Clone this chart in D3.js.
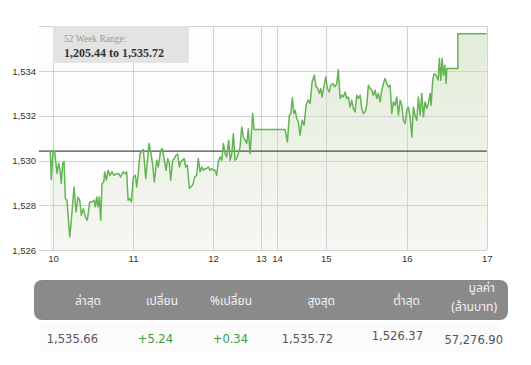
<!DOCTYPE html>
<html lang="th">
<head>
<meta charset="UTF-8">
<title>SET index</title>
<style>
    body { margin: 0; background: #ffffff; }
    svg { display: block; }
</style>
</head>
<body>
<div id="chart"></div>
<script src="https://cdn.jsdelivr.net/npm/d3@7/dist/d3.min.js"></script>
<script>
    // x is measured in trading days from the "10" tick
    const dayLabels = ["10", "11", "12", "13", "14", "15", "16", "17"];
    const dayPos = [0, 1, 2, 2.6, 2.8, 3.41, 4.42, 5.42];
    const yTicks = [1526, 1528, 1530, 1532, 1534];
    const prevClose = 1530.42;

    const seriesT = [
        -0.034, -0.021, 0, 0.021, 0.05, 0.071, 0.088, 0.104, 0.121, 0.138, 0.154, 0.175, 0.209, 0.229,
        0.263, 0.288, 0.313, 0.334, 0.354, 0.379, 0.404, 0.429, 0.459, 0.488, 0.513, 0.529, 0.546,
        0.563, 0.579, 0.596, 0.613, 0.634, 0.646, 0.666, 0.688, 0.709, 0.738, 0.763, 0.791, 0.821,
        0.846, 0.875, 0.904, 0.921, 0.938, 0.959, 0.979, 1.004, 1.029, 1.046, 1.063,
        1.088, 1.129, 1.159, 1.2, 1.225, 1.246, 1.266, 1.296, 1.316, 1.346, 1.366, 1.388, 1.413,
        1.434, 1.454, 1.471, 1.496, 1.516, 1.538, 1.559, 1.579, 1.596, 1.616, 1.638, 1.659, 1.679,
        1.704, 1.721, 1.746, 1.771, 1.796, 1.816, 1.838, 1.859, 1.879, 1.9, 1.921, 1.941, 1.963,
        1.984, 2.004, 2.025, 2.046, 2.066, 2.088, 2.109, 2.129, 2.15, 2.171, 2.196, 2.213, 2.234,
        2.254, 2.275, 2.296, 2.316, 2.338, 2.359, 2.379, 2.4, 2.421, 2.441, 2.463, 2.496, 2.513, 2.9,
        2.929, 2.954, 2.971, 2.991, 3.009, 3.025, 3.046, 3.066, 3.088, 3.113, 3.138, 3.163, 3.188,
        3.213, 3.238, 3.266, 3.288, 3.309, 3.329, 3.346, 3.363, 3.388, 3.409, 3.429, 3.45, 3.471,
        3.496, 3.521, 3.546, 3.566, 3.588, 3.609, 3.629, 3.65, 3.671, 3.691, 3.713, 3.734, 3.754,
        3.775, 3.796, 3.816,
        3.838, 3.859, 3.879, 3.9, 3.921, 3.941, 3.963, 3.984, 4.004, 4.025, 4.046, 4.066, 4.088,
        4.109, 4.129, 4.15, 4.171, 4.191, 4.213, 4.234, 4.254, 4.275, 4.296, 4.316, 4.338, 4.359,
        4.379, 4.4, 4.421, 4.441, 4.463, 4.484, 4.504, 4.525, 4.546, 4.566, 4.588, 4.609, 4.629,
        4.65, 4.671, 4.691, 4.713, 4.725, 4.746, 4.763, 4.788, 4.813, 4.829, 4.846, 4.863, 4.879,
        4.896, 4.913, 4.921, 5.059, 5.059, 5.421
    ];
    const seriesV = [
        1530.45, 1529.15, 1530.45, 1530.38, 1529.43, 1529.88, 1529.56, 1528.98, 1529.88, 1529.94, 1528.30, 1528.22, 1526.58, 1527.33,
        1528.82, 1527.70, 1528.37, 1528.22, 1527.55, 1527.85, 1527.48, 1527.33, 1528.15, 1528.15, 1528.22, 1527.93, 1528.37,
        1527.93, 1528.37, 1527.33, 1528.97, 1529.04, 1529.49, 1529.12, 1529.56, 1529.34, 1529.49, 1529.34, 1529.41, 1529.41,
        1529.26, 1529.49, 1529.41, 1529.49, 1528.22, 1528.30, 1528.15, 1529.26, 1529.34, 1528.82, 1529.34,
        1530.31, 1530.49, 1529.19, 1530.76, 1530.31, 1529.79, 1529.04, 1530.01, 1529.71, 1530.46, 1530.53, 1530.09, 1529.56,
        1530.09, 1529.86, 1529.12, 1530.01, 1530.09, 1530.24, 1530.28, 1529.71, 1529.94, 1530.01, 1530.09, 1529.71, 1529.79,
        1528.75, 1528.82, 1528.90, 1529.26, 1529.34, 1530.09, 1529.49, 1529.71, 1529.56, 1529.64, 1529.64, 1529.71, 1529.56,
        1529.64, 1529.56, 1529.56, 1529.34, 1529.94, 1530.16, 1530.01, 1530.76, 1530.31, 1530.16, 1530.91, 1530.01, 1530.31,
        1531.20, 1530.01, 1530.09, 1530.31, 1530.61, 1531.50, 1531.05, 1530.91, 1530.76, 1531.42, 1530.30, 1532.10, 1531.38, 1531.38,
        1530.83, 1532.02, 1532.10, 1532.81, 1532.10, 1532.25, 1531.88, 1531.72, 1531.13, 1531.80, 1531.58, 1532.47, 1532.70,
        1532.55, 1533.51, 1533.81, 1533.29, 1533.22, 1533.00, 1533.22, 1532.84, 1533.36, 1533.73, 1533.22, 1533.06, 1533.36,
        1533.44, 1533.29, 1533.44, 1534.06, 1532.77, 1532.92, 1532.84, 1533.06, 1532.77, 1532.84, 1532.39, 1532.69, 1532.32,
        1532.17, 1532.92, 1532.77,
        1532.92, 1532.32, 1532.10, 1532.17, 1532.47, 1533.36, 1533.22, 1533.14, 1532.92, 1533.14, 1532.77, 1533.00, 1532.62,
        1533.14, 1533.44, 1533.66, 1533.44, 1533.29, 1533.36, 1532.10, 1532.62, 1532.47, 1532.84, 1532.02, 1532.69, 1532.47,
        1531.80, 1531.65, 1532.25, 1532.39, 1531.95, 1531.05, 1532.39, 1532.02, 1531.80, 1532.84, 1532.02, 1533.00, 1531.95,
        1532.62, 1532.32, 1532.55, 1533.00, 1532.47, 1533.59, 1533.89, 1533.81, 1533.59, 1534.56, 1533.59, 1534.56, 1533.81,
        1534.26, 1533.44, 1534.11, 1534.11, 1535.66, 1535.66
    ];

    const rangeTitle = "52 Week Range:";
    const rangeText = "1,205.44 to 1,535.72";

    const headers = [["ล่าสุด"], ["เปลี่ยน"], ["%เปลี่ยน"], ["สูงสุด"], ["ต่ำสุด"], ["มูลค่า", "(ล้านบาท)"]];
    const values = ["1,535.66", "+5.24", "+0.34", "1,535.72", "1,526.37", "57,276.90"];
    const valueColors = ["#555", "#3d9a3d", "#3d9a3d", "#555", "#555", "#4d5660"];

    const W = 531, H = 365;
    const svg = d3.select("#chart").append("svg").attr("width", W).attr("height", H);

    const x = d3.scaleLinear().domain([-0.175, 5.42]).range([39, 486.7]);
    const y = d3.scaleLinear().domain([1526, 1536]).range([250, 26.25]);

    const defs = svg.append("defs");
    const grad = defs.append("linearGradient").attr("id", "fillGrad")
        .attr("x1", 0).attr("y1", 0).attr("x2", 0).attr("y2", 1);
    grad.append("stop").attr("offset", "0%").attr("stop-color", "#e3ecd9");
    grad.append("stop").attr("offset", "100%").attr("stop-color", "#f6f7f3");

    svg.append("rect").attr("x", x.range()[0]).attr("y", y(1536))
        .attr("width", x.range()[1] - x.range()[0]).attr("height", y(1526) - y(1536))
        .attr("fill", "#fdfdfd");

    const data = seriesT.map((t, i) => ({t: t, v: seriesV[i]}));

    // area under the line
    const area = d3.area()
        .x(d => x(d.t))
        .y0(y(1526))
        .y1(d => y(d.v));
    svg.append("path").datum(data).attr("d", area).attr("fill", "url(#fillGrad)");

    // grid
    const grid = svg.append("g").attr("stroke", "#d2d2d2").attr("stroke-width", 1);
    grid.selectAll("line.h").data(yTicks.concat([1536])).enter().append("line")
        .attr("x1", x.range()[0]).attr("x2", x.range()[1])
        .attr("y1", d => Math.round(y(d)) + 0.5).attr("y2", d => Math.round(y(d)) + 0.5);
    grid.selectAll("line.v").data(dayPos).enter().append("line")
        .attr("x1", d => Math.round(x(d)) + 0.5).attr("x2", d => Math.round(x(d)) + 0.5)
        .attr("y1", y(1536)).attr("y2", y(1526));

    // previous close
    svg.append("line")
        .attr("x1", x.range()[0]).attr("x2", x.range()[1])
        .attr("y1", y(prevClose)).attr("y2", y(prevClose))
        .attr("stroke", "#4a4a4a").attr("stroke-width", 1.2);

    const line = d3.line().x(d => x(d.t)).y(d => y(d.v));
    svg.append("path").datum(data).attr("d", line)
        .attr("fill", "none").attr("stroke", "#62b552").attr("stroke-width", 1.5)
        .attr("stroke-linejoin", "round");

    // axes labels
    const yAxis = d3.axisLeft(y).tickValues(yTicks).tickFormat(d3.format(",")).tickSize(0).tickPadding(3);
    svg.append("g").attr("transform", `translate(${x.range()[0]},0)`).call(yAxis)
        .call(g => g.select(".domain").remove())
        .selectAll("text").attr("font-family", "Liberation Sans, Arial, sans-serif")
        .attr("font-size", "9.5px").attr("fill", "#333");

    const xAxis = d3.axisBottom(x).tickValues(dayPos).tickFormat((d, i) => dayLabels[i]).tickSize(0).tickPadding(5);
    svg.append("g").attr("transform", `translate(0,${y(1526)})`).call(xAxis)
        .call(g => g.select(".domain").remove())
        .selectAll("text").attr("font-family", "Liberation Sans, Arial, sans-serif")
        .attr("font-size", "9.5px").attr("fill", "#333");

    // 52 week range box
    svg.append("rect").attr("x", 53).attr("y", 26).attr("width", 136).attr("height", 37).attr("fill", "#e3e3e3");
    svg.append("text").attr("x", 64).attr("y", 42).text(rangeTitle)
        .attr("font-family", "Liberation Serif, serif").attr("font-size", "9.5px").attr("fill", "#9a9a9a");
    svg.append("text").attr("x", 64).attr("y", 57).text(rangeText)
        .attr("font-family", "Liberation Serif, serif").attr("font-weight", "bold")
        .attr("font-size", "12px").attr("fill", "#333");

    // table
    const colRight = [101, 178, 252, 335, 420, 495];
    svg.append("rect").attr("x", 34).attr("y", 280).attr("width", 474).attr("height", 40)
        .attr("rx", 8).attr("fill", "#8a8a8a");

    const hd = svg.append("g").attr("font-family", "Noto Sans, Noto Sans Thai, sans-serif")
        .attr("font-size", "12px").attr("fill", "#f2f2f2").attr("text-anchor", "end");
    headers.forEach((h, i) => {
        const t = hd.append("text").attr("x", colRight[i]);
        if (h.length === 1) {
            t.attr("y", 305).text(h[0]);
        } else {
            t.append("tspan").attr("x", colRight[i]).attr("y", 292).text(h[0]);
            t.append("tspan").attr("x", colRight[i] + 2).attr("y", 311).text(h[1]);
        }
    });

    const vBase = [342.5, 342.5, 342.5, 342.5, 340, 344];
    const valRight = [98, 173, 248, 333, 423, 503];
    svg.append("rect").attr("x", 40).attr("y", 322).attr("width", 460).attr("height", 30).attr("fill", "#fbfbfb");
    const vg = svg.append("g").attr("font-family", "DejaVu Sans, Verdana, sans-serif")
        .attr("font-size", "11.5px").attr("text-anchor", "end");
    values.forEach((v, i) => {
        vg.append("text").attr("x", valRight[i]).attr("y", vBase[i]).attr("fill", valueColors[i]).text(v);
    });
</script>
</body>
</html>
